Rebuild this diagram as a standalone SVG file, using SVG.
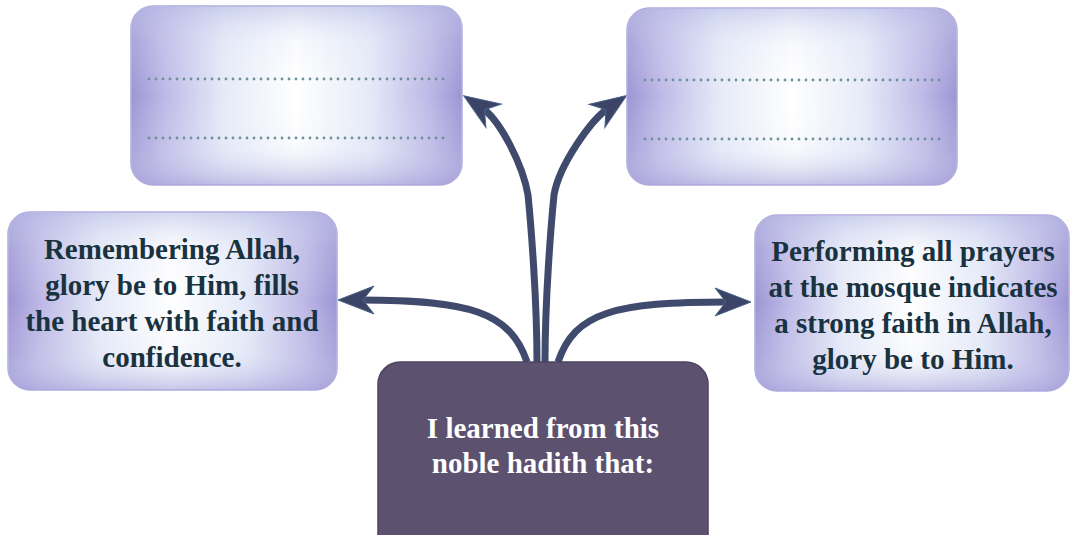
<svg xmlns="http://www.w3.org/2000/svg" width="1075" height="535" viewBox="0 0 1075 535">
  <defs>
    <!-- soft lavender vignette used by the outer boxes -->
    <linearGradient id="sideShade" x1="0" y1="0" x2="1" y2="0">
      <stop offset="0" stop-color="#9d95d4"/>
      <stop offset="0.1" stop-color="#bdb8e6"/>
      <stop offset="0.28" stop-color="#e5eaf8"/>
      <stop offset="0.5" stop-color="#ffffff"/>
      <stop offset="0.72" stop-color="#e5eaf8"/>
      <stop offset="0.9" stop-color="#bdb8e6"/>
      <stop offset="1" stop-color="#9d95d4"/>
    </linearGradient>
    <linearGradient id="edgeShade" x1="0" y1="0" x2="0" y2="1">
      <stop offset="0" stop-color="#b9bde6" stop-opacity="0.6"/>
      <stop offset="0.2" stop-color="#dfe4f5" stop-opacity="0.2"/>
      <stop offset="0.5" stop-color="#ffffff" stop-opacity="0"/>
      <stop offset="0.8" stop-color="#dfe4f5" stop-opacity="0.2"/>
      <stop offset="1" stop-color="#aba6dc" stop-opacity="0.65"/>
    </linearGradient>
    <marker id="head" viewBox="-38 -16 40 32" refX="-22" refY="0" markerWidth="40" markerHeight="32" markerUnits="userSpaceOnUse" orient="auto">
      <path d="M0,0 L-36,-14 L-25,0 L-36,14 Z" fill="#3b4466" stroke="#4a6288" stroke-width="1"/>
    </marker>
  </defs>
  <style>
    .box { fill: url(#sideShade); stroke: #b1aadc; stroke-width: 1.5; }
    .veil { fill: url(#edgeShade); }
    .dots { stroke: #6f9199; stroke-width: 2.8; stroke-linecap: round; stroke-dasharray: 0 7; fill: none; }
    .label { font-family: "Liberation Serif", "Times New Roman", serif; font-weight: bold; font-size: 29px; fill: #19323f; text-anchor: middle; }
    .hub { fill: #5d5170; stroke: #4e4360; stroke-width: 1.5; }
    .hubLabel { font-family: "Liberation Serif", "Times New Roman", serif; font-weight: bold; font-size: 29px; fill: #ffffff; text-anchor: middle; }
    .link { fill: none; stroke: #3f4a6d; stroke-width: 7; marker-end: url(#head); }
  </style>

  <rect width="1075" height="535" fill="#ffffff"/>

  <!-- connectors from the hub to each box -->
  <g id="connectors">
    <path class="link" d="M527,362 C510,312 470,300 360,300"/>
    <path class="link" d="M558,362 C575,312 615,302 729,302"/>
    <path class="link" d="M537,362 C537,300 531,225 528,195 C523,165 500,120 482,108"/>
    <path class="link" d="M545,362 C545,300 551,225 554,195 C559,165 591,120 608.5,108"/>
  </g>

  <!-- empty answer box, top left -->
  <g id="box-top-left">
    <rect class="box" x="131" y="6" width="331" height="179" rx="22"/>
    <rect class="veil" x="131" y="6" width="331" height="179" rx="22"/>
    <line class="dots" x1="149" y1="79" x2="445" y2="79"/>
    <line class="dots" x1="149" y1="138" x2="445" y2="138"/>
  </g>

  <!-- empty answer box, top right -->
  <g id="box-top-right">
    <rect class="box" x="627" y="8" width="330" height="177" rx="22"/>
    <rect class="veil" x="627" y="8" width="330" height="177" rx="22"/>
    <line class="dots" x1="645" y1="80" x2="941" y2="80"/>
    <line class="dots" x1="645" y1="139" x2="941" y2="139"/>
  </g>

  <!-- left statement -->
  <g id="box-left">
    <rect class="box" x="8" y="212" width="329" height="178" rx="22"/>
    <rect class="veil" x="8" y="212" width="329" height="178" rx="22"/>
    <text class="label" x="172" y="259">Remembering Allah,</text>
    <text class="label" x="172" y="295">glory be to Him, fills</text>
    <text class="label" x="172" y="331">the heart with faith and</text>
    <text class="label" x="172" y="367">confidence.</text>
  </g>

  <!-- right statement -->
  <g id="box-right">
    <rect class="box" x="755" y="215" width="314" height="176" rx="22"/>
    <rect class="veil" x="755" y="215" width="314" height="176" rx="22"/>
    <text class="label" x="913" y="261">Performing all prayers</text>
    <text class="label" x="913" y="297">at the mosque indicates</text>
    <text class="label" x="913" y="333">a strong faith in Allah,</text>
    <text class="label" x="913" y="369">glory be to Him.</text>
  </g>

  <!-- central hub -->
  <g id="hub">
    <rect class="hub" x="378" y="362" width="330" height="195" rx="22"/>
    <text class="hubLabel" x="543" y="438">I learned from this</text>
    <text class="hubLabel" x="543" y="473">noble hadith that:</text>
  </g>
</svg>
